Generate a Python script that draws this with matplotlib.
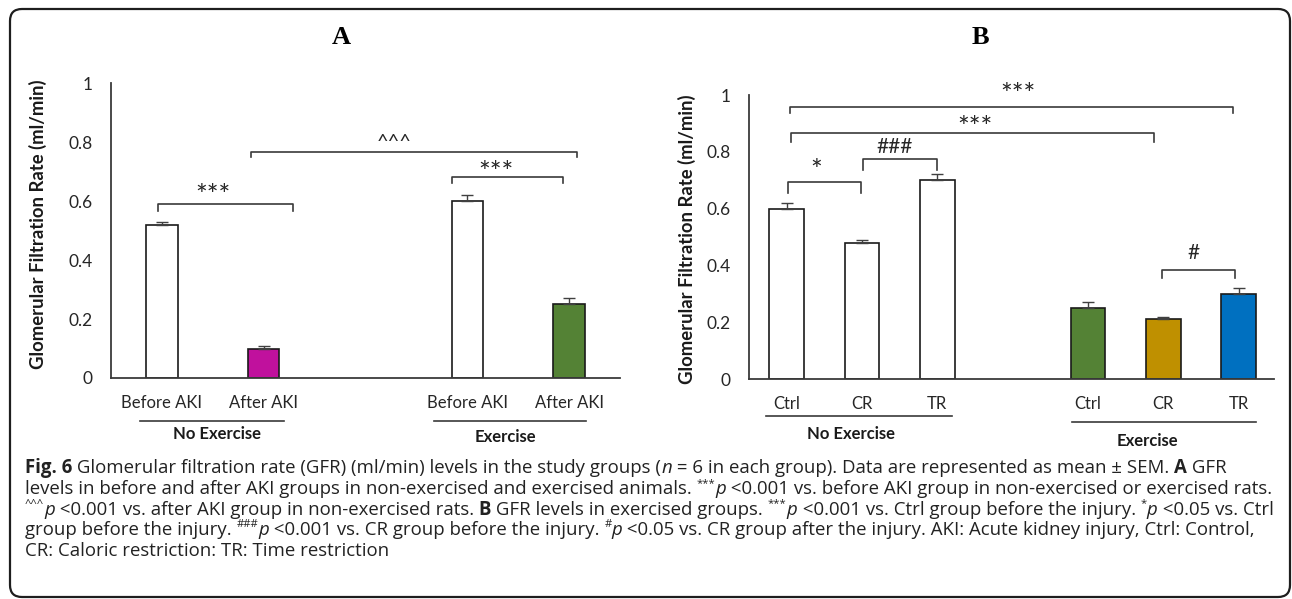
import numpy as np
import matplotlib.pyplot as plt
from matplotlib.patches import FancyBboxPatch
from matplotlib.transforms import IdentityTransform

W, H, DPI = 1292, 599, 100
CHART_FONT = "Lato"
CAP_FONT = "Open Sans"
CAP_SIZE = 13.45

# Panel A: GFR (ml/min), mean and SEM
labels_a = ["Before AKI", "After AKI", "Before AKI", "After AKI"]
gfr_a = [0.52, 0.10, 0.60, 0.25]
sem_a = [0.010, 0.008, 0.020, 0.020]
colors_a = ["white", "#C0119D", "white", "#548235"]

# Panel B: GFR (ml/min) by diet group, mean and SEM
labels_b = ["Ctrl", "CR", "TR", "Ctrl", "CR", "TR"]
gfr_b = [0.60, 0.48, 0.70, 0.25, 0.21, 0.30]
sem_b = [0.020, 0.008, 0.022, 0.020, 0.008, 0.022]
colors_b = ["white", "white", "white", "#548235", "#BF9000", "#0070C0"]

pos_a = [0, 1, 3, 4]
pos_b = [0, 1, 2, 4, 5, 6]

fig = plt.figure(figsize=(W / DPI, H / DPI), dpi=DPI)
plt.rcParams["font.family"] = CHART_FONT


def px_axes(x0, x1, y_top, y_bot):
    return fig.add_axes([x0 / W, 1 - y_bot / H, (x1 - x0) / W, (y_bot - y_top) / H])


def style_axes(ax, pos, vals, sem, colors, labels, width, xlim):
    ax.bar(pos, vals, width, color=colors, edgecolor="#1a1a1a", linewidth=1.2, zorder=2)
    ax.errorbar(pos, vals, yerr=[np.zeros(len(vals)), sem], fmt="none", ecolor="#404040",
                elinewidth=1.0, capsize=4, capthick=1.0, zorder=3)
    ax.set_xlim(*xlim)
    ax.set_ylim(0, 1)
    ax.set_yticks([0, 0.2, 0.4, 0.6, 0.8, 1])
    ax.set_yticklabels(["0", "0.2", "0.4", "0.6", "0.8", "1"])
    ax.set_xticks(pos)
    ax.set_xticklabels(labels)
    ax.tick_params(axis="y", length=0, pad=13, labelsize=12.5, labelcolor="#262626")
    ax.tick_params(axis="x", length=0, pad=12, labelsize=12, labelcolor="#262626")
    for s in ["top", "right"]:
        ax.spines[s].set_visible(False)
    for s in ["left", "bottom"]:
        ax.spines[s].set_color("#3a3a3a")
        ax.spines[s].set_linewidth(1.3)


def bracket(ax, x0, x1, y, drop_l, drop_r, label, tx, ty, size):
    ax.plot([x0, x0, x1, x1], [y - drop_l, y, y, y - drop_r], color="#3a3a3a",
            lw=1.2, clip_on=False, zorder=4)
    ax.text(tx, ty, label, ha="center", va="center", fontsize=size, color="#262626",
            clip_on=False)


def group_label(ax, x0, x1, y_line, tx, ty, text):
    tr = ax.get_xaxis_transform()
    ax.plot([x0, x1], [y_line, y_line], color="#3a3a3a", lw=1.2, transform=tr, clip_on=False)
    ax.text(tx, ty, text, transform=tr, ha="center", va="center", fontsize=12,
            fontweight="bold", color="#1a1a1a")


# Panel A
ax_a = px_axes(111, 620, 83, 378)
style_axes(ax_a, pos_a, gfr_a, sem_a, colors_a, labels_a, 0.31, (-0.5, 4.5))
bracket(ax_a, -0.04, 1.285, 0.590, 0.024, 0.024, "***", 0.50, 0.615, 20)
bracket(ax_a, 0.873, 4.08, 0.766, 0.018, 0.018, "^^^", 2.28, 0.800, 14.5)
bracket(ax_a, 2.852, 3.936, 0.681, 0.020, 0.020, "***", 3.28, 0.690, 20)
group_label(ax_a, -0.215, 1.20, -0.145, 0.54, -0.190, "No Exercise")
group_label(ax_a, 2.67, 4.17, -0.145, 3.37, -0.199, "Exercise")

# Panel B
ax_b = px_axes(749, 1274, 95, 379)
style_axes(ax_b, pos_b, gfr_b, sem_b, colors_b, labels_b, 0.46, (-0.5, 6.47))
bracket(ax_b, 0.045, 5.925, 0.957, 0.020, 0.020, "***", 3.07, 0.995, 20)
bracket(ax_b, 0.063, 4.878, 0.865, 0.029, 0.029, "***", 2.50, 0.880, 20)
bracket(ax_b, 1.014, 2.000, 0.774, 0.038, 0.038, "###", 1.44, 0.818, 15)
bracket(ax_b, 0.014, 0.983, 0.695, 0.039, 0.039, "*", 0.39, 0.730, 20)
bracket(ax_b, 4.978, 5.946, 0.384, 0.027, 0.027, "#", 5.40, 0.443, 15)
group_label(ax_b, -0.27, 2.20, -0.129, 0.86, -0.193, "No Exercise")
group_label(ax_b, 3.79, 6.23, -0.152, 4.79, -0.219, "Exercise")

# axis titles and panel letters
ylab = "Glomerular Filtration Rate (ml/min)"
fig.text(38 / W, 1 - 224.5 / H, ylab, rotation=90, ha="center", va="center",
         fontsize=13.3, fontweight="bold", color="#1a1a1a")
fig.text(687 / W, 1 - 239 / H, ylab, rotation=90, ha="center", va="center",
         fontsize=13.3, fontweight="bold", color="#1a1a1a")
fig.text(341 / W, 1 - 38 / H, "A", ha="center", va="center", family="Liberation Serif",
         fontweight="bold", fontsize=19)
fig.text(980 / W, 1 - 38 / H, "B", ha="center", va="center", family="Liberation Serif",
         fontweight="bold", fontsize=19)

# frame around the figure
fig.patches.append(FancyBboxPatch((10, H - 597), 1280, 588,
                                  boxstyle="round,pad=0,rounding_size=12",
                                  transform=IdentityTransform(), facecolor="none",
                                  edgecolor="#1e1e1e", linewidth=1.6))

# caption, laid out run by run
renderer = fig.canvas.get_renderer()


def run_style(style):
    kw = dict(family=CAP_FONT, size=CAP_SIZE, color="#222222")
    dy = 0
    if style == "b":
        kw["weight"] = "bold"
    elif style == "i":
        kw["style"] = "italic"
    elif style == "sup":
        kw["size"] = CAP_SIZE * 0.6
        dy = 8
    return kw, dy


def text_width(s, kw):
    t = fig.text(0, 0, s + "|", transform=IdentityTransform(), **kw)
    bar = fig.text(0, 0, "|", transform=IdentityTransform(), **kw)
    w = t.get_window_extent(renderer).width - bar.get_window_extent(renderer).width
    t.remove()
    bar.remove()
    return w


def caption_line(x, y_base, runs):
    for s, style in runs:
        kw, dy = run_style(style)
        fig.text(x, H - y_base + dy, s, transform=IdentityTransform(), ha="left",
                 va="baseline", **kw)
        x += text_width(s, kw)


cap_lines = [
    [("Fig. 6", "b"), (" Glomerular filtration rate (GFR) (ml/min) levels in the study groups (", "r"),
     ("n", "i"), (" = 6 in each group). Data are represented as mean ± SEM. ", "r"), ("A", "b"),
     (" GFR", "r")],
    [("levels in before and after AKI groups in non-exercised and exercised animals. ", "r"),
     ("***", "sup"), ("p", "i"),
     (" <0.001 vs. before AKI group in non-exercised or exercised rats.", "r")],
    [("^^^", "sup"), ("p", "i"), (" <0.001 vs. after AKI group in non-exercised rats. ", "r"),
     ("B", "b"), (" GFR levels in exercised groups. ", "r"), ("***", "sup"), ("p", "i"),
     (" <0.001 vs. Ctrl group before the injury. ", "r"), ("*", "sup"), ("p", "i"),
     (" <0.05 vs. Ctrl", "r")],
    [("group before the injury. ", "r"), ("###", "sup"), ("p", "i"),
     (" <0.001 vs. CR group before the injury. ", "r"), ("#", "sup"), ("p", "i"),
     (" <0.05 vs. CR group after the injury. AKI: Acute kidney injury, Ctrl: Control,", "r")],
    [("CR: Caloric restriction: TR: Time restriction", "r")],
]
for i, runs in enumerate(cap_lines):
    caption_line(25, 473 + 20.8 * i, runs)

fig.savefig("out.png", dpi=DPI, facecolor="white")
